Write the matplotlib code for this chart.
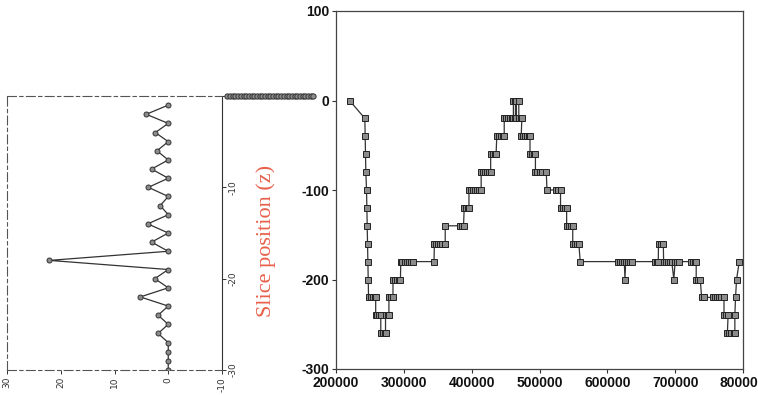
from matplotlib import pyplot as plt
from matplotlib.ticker import FixedLocator, FixedFormatter

# left (rotated) panel: value vs slice position z
z_left = [-1, -2, -3, -4, -5, -6, -7, -8, -9, -10,
          -11, -12, -13, -14, -15, -16, -17, -18, -19, -20,
          -21, -22, -23, -24, -25, -26, -27, -28, -29, -30]
v_left = [0, 4.1, 0, 2.4, 0, 2.1, 0, 3.1, 0, 3.7,
          0, 1.5, 0, 3.8, 0, 3.1, 0, 22.1, 0, 2.5,
          0, 5.2, 0, 1.9, 0, 1.9, 0, 0, 0, 0]
# cluster of points at z = 0 that runs out of the frame
v_top = [-11, -11.5, -12, -12.5, -13, -13.5, -14, -14.5, -15, -15.5,
         -16, -16.5, -17, -17.5, -18, -18.5, -19, -19.5, -20, -20.5,
         -21, -21.5, -22, -22.5, -23, -23.5, -24, -24.5, -25, -25.5,
         -26, -26.5, -27]
z_top = [0] * len(v_top)

left_xticks = [30, 20, 10, 0, -10]
left_xlabels = ["30", "20", "10", "0", "-10"]
left_yticks = [0, -10, -20, -30]
left_ylabels = ["", "-10", "-20", "-30"]

# right panel: trajectory (x in thousands)
x_k = [220, 242.5,
       243, 243.5, 244, 245, 245.5, 246, 246.5, 247, 247.5, 248,
       251, 254, 257, 258.5,
       258.5, 261, 264, 266,
       266, 269, 272, 273,
       273, 276, 278,
       278, 281, 284,
       284, 287, 290, 293, 295,
       295.5, 298, 301, 304, 307, 310, 313, 344.5,
       345, 348, 351, 354, 357, 360, 361,
       361, 383, 386, 388,
       389, 392, 395, 396,
       396, 399, 402, 405, 408, 411, 414,
       414, 417, 420, 423, 426, 428,
       428, 431, 434, 436,
       437, 440, 443, 446, 448,
       448, 451, 454, 457, 460, 461.5,
       461.5, 464.5,
       464.5, 466,
       466, 469.5,
       469.5, 472, 474,
       473, 476, 479, 482, 485, 486,
       486, 489, 492, 494,
       494, 497, 500, 503, 510,
       511, 525, 528, 531,
       531, 534, 537, 540,
       540, 543, 546, 549,
       549, 552, 555, 558,
       560, 616, 619, 622, 625,
       626,
       627, 630, 633, 636, 670, 673, 675,
       675.5, 679, 682.5,
       683, 686, 689, 692, 695,
       698,
       700, 703, 706, 723, 726, 729, 731,
       731, 734, 737,
       739, 742, 756, 759, 762, 765, 768, 772,
       772, 775, 778,
       777, 780, 783, 786, 788,
       788,
       789,
       790.5,
       794.5]
y_r = [0, -20,
       -40, -60, -80, -100, -120, -140, -160, -180, -200, -220,
       -220, -220, -220, -220,
       -240, -240, -240, -240,
       -260, -260, -260, -260,
       -240, -240, -240,
       -220, -220, -220,
       -200, -200, -200, -200, -200,
       -180, -180, -180, -180, -180, -180, -180, -180,
       -160, -160, -160, -160, -160, -160, -160,
       -140, -140, -140, -140,
       -120, -120, -120, -120,
       -100, -100, -100, -100, -100, -100, -100,
       -80, -80, -80, -80, -80, -80,
       -60, -60, -60, -60,
       -40, -40, -40, -40, -40,
       -20, -20, -20, -20, -20, -20,
       0, 0,
       -20, -20,
       0, 0,
       -20, -20, -20,
       -40, -40, -40, -40, -40, -40,
       -60, -60, -60, -60,
       -80, -80, -80, -80, -80,
       -100, -100, -100, -100,
       -120, -120, -120, -120,
       -140, -140, -140, -140,
       -160, -160, -160, -160,
       -180, -180, -180, -180, -180,
       -200,
       -180, -180, -180, -180, -180, -180, -180,
       -160, -160, -160,
       -180, -180, -180, -180, -180,
       -200,
       -180, -180, -180, -180, -180, -180, -180,
       -200, -200, -200,
       -220, -220, -220, -220, -220, -220, -220, -220,
       -240, -240, -240,
       -260, -260, -260, -260, -260,
       -240,
       -220,
       -200,
       -180]
x_r = [v * 1000 for v in x_k]

right_xticks = [200000, 300000, 400000, 500000, 600000, 700000, 800000]
right_xlabels = ["200000", "300000", "400000", "500000", "600000", "700000", "800000"]
right_yticks = [100, 0, -100, -200, -300]
right_ylabels = ["100", "0", "-100", "-200", "-300"]

linec = "#333333"
mface = "#8c8c8c"

fig = plt.figure(figsize=(7.58, 3.95), dpi=100)

# ---- left panel
ax1 = fig.add_axes([7 / 758, 25 / 395, 215 / 758, 274 / 395])
ax1.plot(v_left, z_left, color=linec, lw=0.9, marker="o", ms=3.6,
         mfc=mface, mec=linec, mew=0.7)
ax1.plot(v_top, z_top, color=linec, lw=0.9, marker="o", ms=3.8,
         mfc=mface, mec=linec, mew=0.7, clip_on=False, zorder=5)
ax1.set_xlim(30, -10)
ax1.set_ylim(-30, 0)
ax1.yaxis.tick_right()
ax1.xaxis.set_major_locator(FixedLocator(left_xticks))
ax1.xaxis.set_major_formatter(FixedFormatter(left_xlabels))
ax1.yaxis.set_major_locator(FixedLocator(left_yticks))
ax1.yaxis.set_major_formatter(FixedFormatter(left_ylabels))
ax1.tick_params(axis="both", direction="out", length=3, width=0.7,
                colors=linec, labelsize=6.5, pad=2)
for lab in ax1.get_xticklabels():
    lab.set_rotation(90)
    lab.set_va("top")
for lab in ax1.get_yticklabels():
    lab.set_rotation(90)
    lab.set_va("center")
for s in ["top", "left", "bottom"]:
    ax1.spines[s].set_linestyle((0, (8, 3, 3, 3)))
    ax1.spines[s].set_color("#555555")
    ax1.spines[s].set_linewidth(0.8)
ax1.spines["right"].set_color(linec)
ax1.spines["right"].set_linewidth(0.8)

# ---- right panel
ax2 = fig.add_axes([336 / 758, 26 / 395, 407 / 758, 358 / 395])
ax2.plot(x_r, y_r, color=linec, lw=0.9, marker="s", ms=3.8,
         mfc=mface, mec="#222222", mew=0.7)
ax2.set_xlim(200000, 800000)
ax2.set_ylim(-300, 100)
ax2.xaxis.set_major_locator(FixedLocator(right_xticks))
ax2.xaxis.set_major_formatter(FixedFormatter(right_xlabels))
ax2.yaxis.set_major_locator(FixedLocator(right_yticks))
ax2.yaxis.set_major_formatter(FixedFormatter(right_ylabels))
ax2.tick_params(axis="both", direction="out", length=3, width=0.8,
                colors=linec, labelsize=10, pad=2)
for lab in ax2.get_xticklabels() + ax2.get_yticklabels():
    lab.set_fontweight("bold")
    lab.set_family("Liberation Sans")
    lab.set_color("#111111")
for s in ax2.spines.values():
    s.set_color("#444444")
    s.set_linewidth(0.9)

fig.text(266 / 758, 1 - 241 / 395, "Slice position (z)", rotation=90,
         ha="center", va="center", color="#e8604a", fontsize=16,
         family="Liberation Serif")

fig.savefig("out.png", dpi=100)
